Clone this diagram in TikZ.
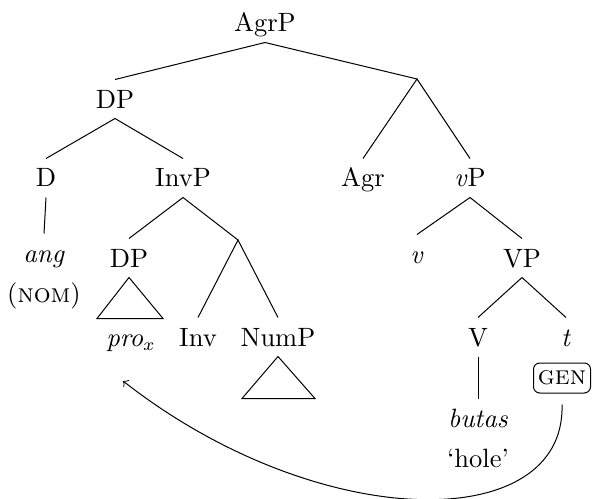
\documentclass[tikz,border=0pt]{standalone}
\begin{document}
\begin{tikzpicture}[x=0.4pt,y=-0.4pt,
  every node/.style={font=\fontsize{10.6}{12.5}\selectfont},
  lab/.style={inner sep=0pt, text height=7.2pt, text depth=0pt, minimum height=15.2pt},
  casebox/.style={draw, rounded corners=2.5pt, inner sep=0pt, minimum width=22.8pt, minimum height=12pt},
  br/.style={line width=0.4pt}]
\useasboundingbox (0,0) rectangle (593,499);
% level 0
\node[lab] (agrp) at (265,23) {AgrP};
% level 1
\node[lab] (dp1) at (115,99) {DP};
\coordinate (b1) at (417,79);
% level 2
\node[lab] (d) at (46,178) {D};
\node[lab] (invp) at (183,178) {InvP};
\node[lab] (agr) at (363,178) {Agr};
\node[lab] (vp) at (470,178) {\textit{v}P};
% level 3
\node[lab] (ang) at (44,253) {\textit{ang}};
\node[lab] (nom) at (44,293) {(\textsc{nom})};
\node[lab] (dp2) at (129,258) {DP};
\coordinate (b2) at (238,240);
\node[lab] (v) at (417,254) {\textit{v}};
\node[lab] (vpb) at (522,258) {VP};
% level 4
\node[lab] (prox) at (131,337) {\textit{pro}$_x$};
\node[lab] (inv) at (198,337) {Inv};
\node[lab] (nump) at (278,337) {NumP};
\node[lab] (vv) at (478,337) {V};
\node[lab] (t) at (566,337) {\textit{t}};
\node[casebox] (gen) at (562,378) {\textsc{gen}};
% level 5
\node[lab] (butas) at (478,418) {\textit{butas}};
\node[lab] (hole) at (478,458) {`hole'};
% branches
\draw[br] (dp1.north) -- (agrp.south) -- (b1);
\draw[br] (agr.north) -- (b1) -- (vp.north);
\draw[br] (d.north) -- (dp1.south) -- (invp.north);
\draw[br] (d.south) -- (ang.north);
\draw[br] (dp2.north) -- (invp.south) -- (b2);
\draw[br] (inv.north) -- (b2) -- (nump.north);
\draw[br] (v.north) -- (vp.south) -- (vpb.north);
\draw[br] (vv.north) -- (vpb.south) -- (t.north);
\draw[br] (vv.south) -- (butas.north);
% triangles
\draw[br] (dp2.south) -- ++(-32,41) -- ++(66,0) -- cycle;
\draw[br] (nump.south) -- ++(-36,42) -- ++(73,0) -- cycle;
% movement arrow
\coordinate (arrstart) at ([yshift=-4.4pt]gen.south);
\coordinate (arrend) at (123,381);
\draw[br,->] (arrstart) .. controls (566,535) and (320,535) .. (arrend);
\end{tikzpicture}
\end{document}
